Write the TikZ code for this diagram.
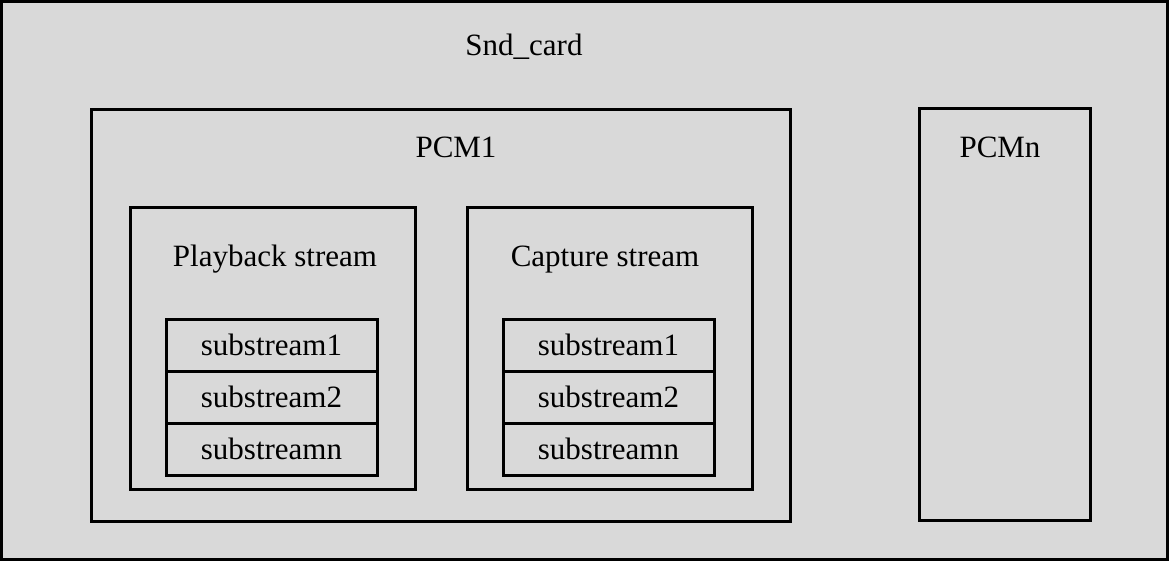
\documentclass[tikz,border=0pt]{standalone}
\usepackage{fontspec}
\setmainfont{Liberation Serif}
\usetikzlibrary{positioning}
\definecolor{Panel}{HTML}{D9D9D9}

\begin{document}
\begin{tikzpicture}[x=1pt,y=-1pt,
    box/.style={draw=black,line width=3pt,fill=Panel,outer sep=0pt,inner sep=0pt},
    title/.style={anchor=base,font=\fontsize{31}{37}\selectfont},
    subbox/.style={box,minimum width=211pt,minimum height=52pt,font=\fontsize{31}{37}\selectfont}]
    \useasboundingbox (0,0) rectangle (1169,561);
    \draw[line width=3pt,fill=Panel] (1.5,1.5) rectangle (1167.5,559.5);
    \node[title] (card) at (524,56) {Snd\_card};

    % pcm devices
    \node[box,minimum width=699pt,minimum height=411pt] (pcm1) at (440.5,315.5) {};
    \node[title] (pcm1t) at (456,158) {PCM1};
    \node[box,minimum width=171pt,minimum height=411pt] (pcmn) at (1004.5,314.5) {};
    \node[title] (pcmnt) at (1000,158) {PCMn};

    % streams
    \node[box,minimum width=285pt,minimum height=281pt] (play) at (272.5,348.5) {};
    \node[title] (playt) at (275,266) {Playback stream};
    \node[box,minimum width=285pt,minimum height=281pt] (capt) at (609.5,348.5) {};
    \node[title] (captt) at (605,266) {Capture stream};

    % substreams
    \node[subbox] (play1) at (271.5,345) {substream1};
    \node[subbox,below=0pt of play1] (play2) {substream2};
    \node[subbox,below=0pt of play2] (playn) {substreamn};
    \node[subbox] (capt1) at (608.5,345) {substream1};
    \node[subbox,below=0pt of capt1] (capt2) {substream2};
    \node[subbox,below=0pt of capt2] (captn) {substreamn};
\end{tikzpicture}
\end{document}
